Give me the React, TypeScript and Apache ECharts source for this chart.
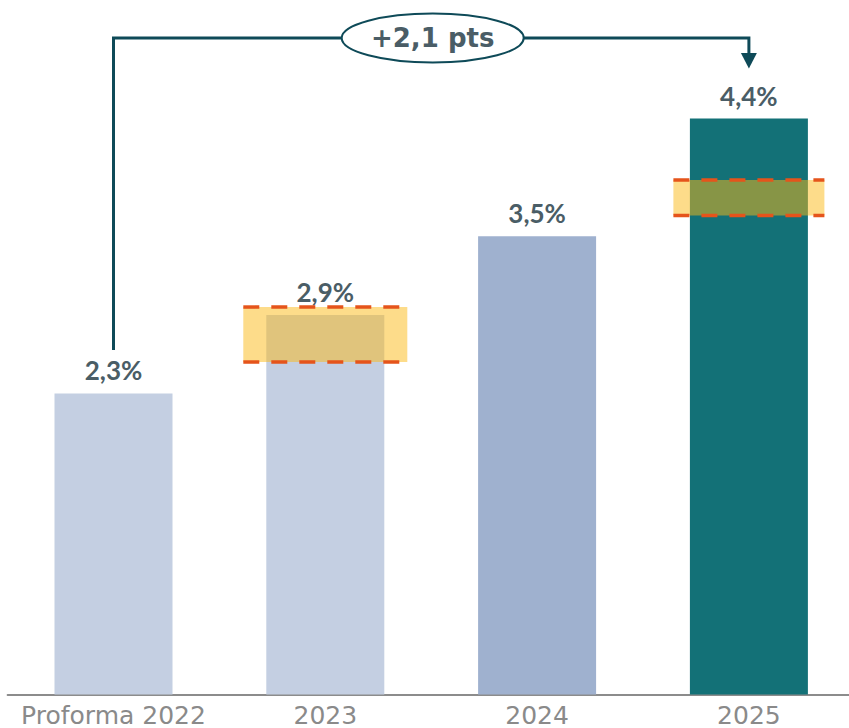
import React, { useEffect, useRef } from "react";
import * as echarts from "echarts";

const categories = ["Proforma 2022", "2023", "2024", "2025"];
const values = [2.3, 2.9, 3.5, 4.4];
const valueLabels = ["2,3%", "2,9%", "3,5%", "4,4%"];
const barColors = ["#C4CFE2", "#C4CFE2", "#9FB1CF", "#137177"];

// Target bands (category index, low, high)
const bandCategory = [1, 3];
const bandLow = [2.54, 3.66];
const bandHigh = [2.96, 3.93];
const bandWidthsPx = [164, 151];

const deltaLabel = "+2,1 pts";

export default function App() {
  const ref = useRef<HTMLDivElement>(null);

  useEffect(() => {
    document.body.style.margin = "0";
    document.body.style.overflow = "hidden";
    const chart = echarts.init(ref.current!, undefined, { renderer: "svg" });

    const option: any = {
      animation: false,
      grid: {
        left: 7.6,
        right: -5.8,
        top: 40,
        bottom: 33.5,
        containLabel: false,
        outerBoundsMode: "none",
      },
      xAxis: {
        type: "category",
        data: categories,
        axisLine: { show: true, lineStyle: { color: "#8C8C8C", width: 2 } },
        axisTick: { show: false },
        axisLabel: {
          interval: 0,
          fontFamily: "DejaVu Sans",
          fontSize: 25,
          color: "#8A8A8A",
          margin: 8,
        },
      },
      yAxis: {
        type: "value",
        min: 0,
        max: 5,
        show: false,
        splitLine: { show: false },
      },
      series: [
        {
          type: "bar",
          barWidth: 118,
          data: values.map((v, i) => ({ value: v, itemStyle: { color: barColors[i] } })),
          label: {
            show: true,
            position: "top",
            distance: 10,
            formatter: (p: any) => valueLabels[p.dataIndex],
            fontFamily: "Lato",
            fontWeight: "bold",
            fontSize: 26,
            color: "#4A5D66",
          },
          z: 2,
        },
        {
          type: "custom",
          z: 5,
          data: bandCategory.map((c, i) => [c, bandLow[i], bandHigh[i]]),
          renderItem: (params: any, api: any) => {
            const c = api.value(0);
            const lo = api.coord([c, api.value(1)]);
            const hi = api.coord([c, api.value(2)]);
            const w = bandWidthsPx[params.dataIndex];
            const x0 = lo[0] - w / 2;
            const x1 = lo[0] + w / 2;
            const dash = { stroke: "#E5541B", lineWidth: 3.5, lineDash: [16, 12] };
            return {
              type: "group",
              children: [
                {
                  type: "rect",
                  shape: { x: x0, y: hi[1], width: w, height: lo[1] - hi[1] },
                  style: { fill: "rgba(251,185,21,0.5)" },
                },
                {
                  type: "line",
                  shape: { x1: x0, y1: hi[1], x2: x1, y2: hi[1] },
                  style: dash,
                },
                {
                  type: "line",
                  shape: { x1: x0, y1: lo[1], x2: x1, y2: lo[1] },
                  style: dash,
                },
              ],
            };
          },
        },
      ],
    };
    chart.setOption(option);

    const p0 = chart.convertToPixel({ gridIndex: 0 }, [0, values[0]]) as number[];
    const p3 = chart.convertToPixel({ gridIndex: 0 }, [3, values[3]]) as number[];
    const lineY = 38;
    const startY = p0[1] - 43.5;
    const arrowTip = p3[1] - 50;
    const arrowBase = arrowTip - 15.5;
    const cx = (p0[0] + p3[0]) / 2 + 1.5;
    const lineColor = "#0E4A58";

    chart.setOption({
      graphic: [
        {
          type: "polyline",
          shape: {
            points: [
              [p0[0], startY],
              [p0[0], lineY],
              [p3[0], lineY],
              [p3[0], arrowBase + 1],
            ],
          },
          style: { stroke: lineColor, lineWidth: 3, fill: null, lineJoin: "miter" },
          z: 10,
        },
        {
          type: "polygon",
          shape: {
            points: [
              [p3[0] - 8, arrowBase],
              [p3[0] + 8, arrowBase],
              [p3[0], arrowTip],
            ],
          },
          style: { fill: lineColor },
          z: 10,
        },
        {
          type: "ellipse",
          shape: { cx, cy: lineY, rx: 91, ry: 24.5 },
          style: { fill: "#FFFFFF", stroke: lineColor, lineWidth: 2 },
          z: 11,
        },
        {
          type: "text",
          x: cx,
          y: lineY,
          style: {
            text: deltaLabel,
            fontFamily: "DejaVu Sans",
            fontWeight: "bold",
            fontSize: 26,
            fill: "#4A5D66",
            textAlign: "center",
            textVerticalAlign: "middle",
          },
          z: 12,
        },
      ],
    });

    return () => chart.dispose();
  }, []);

  return <div ref={ref} style={{ width: 849, height: 728 }} />;
}
